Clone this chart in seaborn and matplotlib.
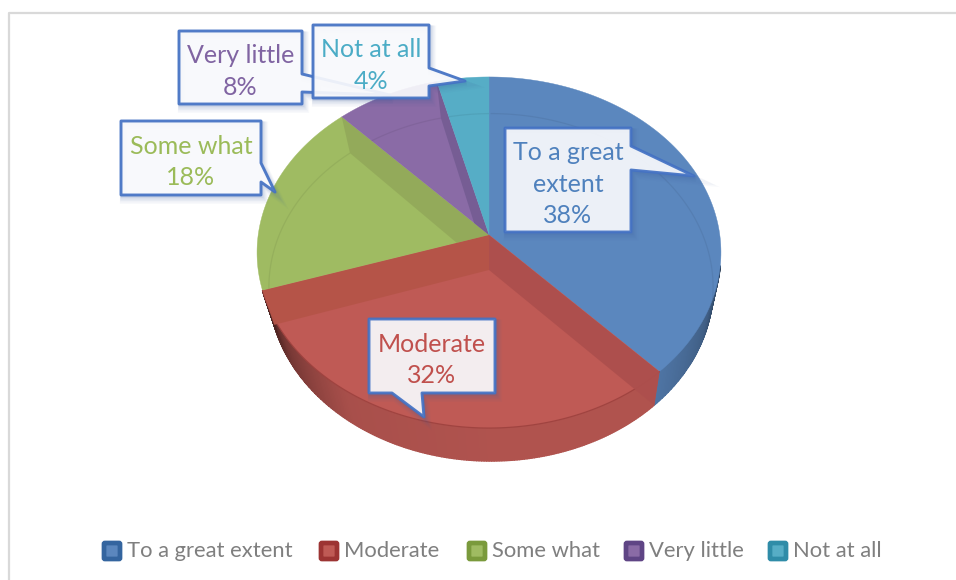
import numpy as np
import matplotlib
matplotlib.use("Agg")
import matplotlib.pyplot as plt
import seaborn as sns
from matplotlib.patches import Polygon, FancyBboxPatch

sns.set_theme(style="white")
plt.rcParams['font.family'] = ['Lato', 'DejaVu Sans']

# Data
categories = ["To a great extent", "Moderate", "Some what", "Very little", "Not at all"]
shares = [38, 32, 18, 8, 4]
callout_names = ["To a great\nextent", "Moderate", "Some what", "Very little", "Not at all"]
top_colors = ["#5b87be", "#bf5a55", "#9fbb62", "#8a6ba6", "#56adc6"]
text_colors = ["#4f81bd", "#c0504d", "#9bbb59", "#8064a2", "#4bacc6"]
legend_edges = ["#34659f", "#9c3433", "#7a9a3c", "#5f4585", "#2f8ca8"]
palette = sns.color_palette(top_colors)

# callouts: box left, right, top, bottom, then the three pointer points
callouts = [
    (505, 631, 128, 232, [(631, 146), (694, 176), (631, 170)]),
    (369, 495, 319, 393, [(422, 393), (424, 417), (392, 393)]),
    (121, 261, 121, 195, [(261, 163), (275, 192), (261, 182)]),
    (179, 302, 31, 104, [(302, 74), (390, 95), (302, 92)]),
    (313, 429, 25, 98, [(429, 68), (465, 81), (429, 86)]),
]
legend_x = [102, 319, 467, 624, 768]


def project(theta, cx, apex_y, width, height, k=0.0997):
    # share angle (clockwise from 12 o'clock) to picture position, with perspective
    u, v = np.sin(theta), np.cos(theta)
    w = 1 + k * v
    return cx + width * u / w, apex_y - height * v / w


def rim(theta):
    return project(theta, 489, 235, 230.8, 173.8)


def floor(theta):
    return project(theta, 491, 270, 221, 172)


def shade(color, f):
    c = np.array(matplotlib.colors.to_rgb(color))
    return tuple(c * f)


fig, ax = plt.subplots(figsize=(9.56, 5.8), dpi=100)
fig.subplots_adjust(0, 0, 1, 1)
ax.set_xlim(0, 956)
ax.set_ylim(580, 0)
ax.axis("off")

# chart frame
ax.plot([9, 9, 956], [580, 13, 13], color="#d9d9d9", lw=1.6, zorder=0)

edges = np.deg2rad(np.concatenate([[0], np.cumsum(shares)]) * 3.6)

# outer wall, front part only
front = np.deg2rad(np.linspace(100, 252, 260))
for a, b in zip(front[:-1], front[1:]):
    mid = (a + b) / 2
    i = np.searchsorted(edges, mid) - 1
    deg = np.rad2deg(mid)
    if i == 0:
        f = np.interp(deg, [100, 115, 136.8], [0.42, 0.70, 0.86])
    else:
        f = np.interp(deg, [180, 215, 238, 252], [0.92, 0.88, 0.62, 0.38])
    xa, ya = rim(a)
    xb, yb = rim(b)
    xc, yc = floor(b)
    xd, yd = floor(a)
    col = shade(palette[i], f)
    ax.add_patch(Polygon([(xa, ya), (xb, yb), (xc, yc), (xd, yd)], fc=col, ec=col, lw=1.0, zorder=1))

# top surface
top_patches = []
for i in range(len(shares)):
    th = np.linspace(edges[i], edges[i + 1], 120)
    x, y = rim(th)
    pts = [(489, 235)] + list(zip(x, y))
    p = Polygon(pts, fc=palette[i], ec=palette[i], lw=0.3, zorder=2)
    ax.add_patch(p)
    top_patches.append(p)

# faint floor arc seen through the top
for i in [0, 2, 3, 4]:
    th = np.linspace(edges[i], edges[i + 1], 120)
    x, y = floor(th)
    ln, = ax.plot(x, y, color=shade(palette[i], 0.72), lw=0.9, alpha=0.22, zorder=3)
    ln.set_clip_path(top_patches[i])

# front rim of the red slice is a dark line
th = np.linspace(edges[1], edges[2], 120)
x, y = rim(th)
ax.plot(x, y, color="#9a3f3c", lw=0.9, alpha=0.8, zorder=3)

# cut faces seen through the top
faces = [(2, 3, "#93aa5a"), (3, 4, "#755d94"), (1, 2, "#b55448"), (1, 1, "#ad4f4d")]
for slice_i, edge_i, col in faces:
    xa, ya = rim(edges[edge_i])
    xb, yb = floor(edges[edge_i])
    quad = Polygon([(489, 235), (xa, ya), (xb, yb), (489, 270)], fc=col, ec="none", alpha=0.95, zorder=4)
    ax.add_patch(quad)
    if slice_i != 1:
        quad.set_clip_path(top_patches[slice_i])

# callouts, shadow first
for i, (l, r, t, b, tail) in enumerate(callouts):
    if tail[0][0] == r:
        shape = [(l, t), (r, t), tail[0], tail[1], tail[2], (r, b), (l, b)]
    else:
        shape = [(l, t), (r, t), (r, b), tail[0], tail[1], tail[2], (l, b)]
    for off, al in [(6, 0.03), (5, 0.04), (4, 0.05), (3, 0.07), (2, 0.09)]:
        sh = [(x + off * 0.5, y + off * 0.8) for x, y in shape]
        ax.add_patch(Polygon(sh, fc="none", ec="#3f5f9f", lw=off, alpha=al, zorder=5 + i))
    ax.add_patch(Polygon(shape, fc="#f8f9fc", ec="#4472c4", lw=2.1, alpha=0.93, joinstyle="round", zorder=5 + i))
    ax.text((l + r) / 2, (t + b) / 2 + 4, f"{callout_names[i]}\n{shares[i]}%", color=text_colors[i],
            fontsize=18, ha="center", va="center", linespacing=1.47, zorder=5.5 + i)

# legend
for x0, name, face, edge in zip(legend_x, categories, palette, legend_edges):
    ax.add_patch(FancyBboxPatch((x0 + 2, 543), 16, 16, boxstyle="round,pad=0,rounding_size=1",
                                fc=face, ec=edge, lw=3.4, zorder=3))
    ax.text(x0 + 25, 551, name, color="#7f7f7f", fontsize=15.8, va="center", ha="left")

fig.savefig("out.png", dpi=100, facecolor="white")
